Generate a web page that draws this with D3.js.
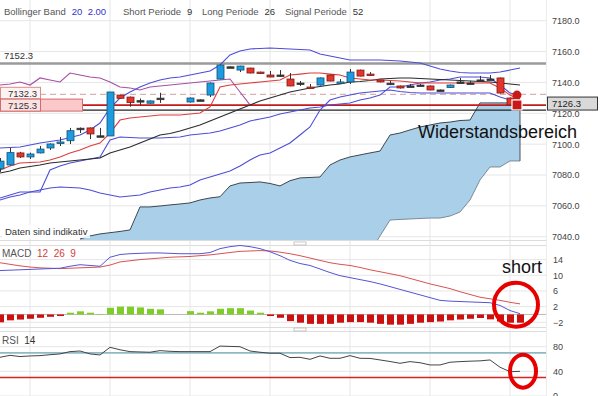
<!DOCTYPE html>
<html>
<head>
<meta charset="utf-8">
<script src="https://cdn.jsdelivr.net/npm/d3@7"></script>
<style>
  body { margin: 0; background: #fff; }
  svg { display: block; font-family: "Liberation Sans", Arial, sans-serif; }
</style>
</head>
<body>
<div class="chart"></div>
<script>
// ---- data (prices / indicator values per bar) ----
var opens  = [7084, 7086.5, 7094.3, 7091.7, 7094.3, 7097.5, 7100.5, 7102.2, 7110.2, 7110.5, 7105.3, 7105.3, 7131.8, 7130.5, 7128.1, 7126.5, 7129.7, null, null, 7127.3, 7128.6, 7131.8, 7142.2, 7150.0, 7148.0, 7149.3, 7146.7, 7144.8, 7144.8, 7142.2, 7139.6, 7137.0, 7138.3, 7144.8, 7139.6, 7140.3, 7148.0, 7145.4, 7141.6, 7139.5, 7137.7, 7137.7, 7138.3, 7137.7, 7135.1, 7136.7, 7140.3, 7139.6, 7141.6, 7142.2, 7142.9, 7129.9];
var highs  = [7091, 7097.5, 7095, 7094.5, 7098.8, 7100.5, 7104.6, 7110.5, 7110.8, 7110.8, 7110.5, 7133.8, 7132, 7130.8, 7129.6, 7128.3, 7133.3, null, null, 7130.2, 7129, 7140, 7151.5, 7150.4, 7150.8, 7149.5, 7147, 7147.4, 7148, 7146.1, 7140.9, 7139, 7143.2, 7145, 7142.2, 7148.7, 7148.3, 7146.7, 7141.9, 7140.9, 7138, 7139, 7139, 7138, 7135.4, 7138.6, 7142.9, 7141, 7144.2, 7144.8, 7143.2, 7130.2];
var lows   = [7082, 7086, 7091, 7090.4, 7094, 7096.2, 7098.8, 7100.1, 7107.2, 7103.3, 7105, 7105.3, 7129.5, 7124.3, 7125.4, 7126.2, 7126.7, null, null, 7127, 7128.3, 7130.5, 7142, 7149.7, 7146.7, 7145.8, 7145.6, 7143.3, 7143.5, 7137.5, 7137.7, 7136.2, 7138, 7140.7, 7139.4, 7139, 7143.9, 7144.3, 7140, 7138.3, 7136, 7137.3, 7137.5, 7134.9, 7134.7, 7136.4, 7139.6, 7139, 7140.9, 7141.6, 7132.8, 7125];
var closes = [7089, 7094.5, 7091.7, 7093.6, 7096.8, 7100.1, 7101.4, 7108.7, 7110.3, 7106.6, 7105.4, 7133.8, 7129.7, 7126.9, 7128.2, 7128.0, 7129.8, null, null, 7129.9, 7128.7, 7139.6, 7151.3, 7150.1, 7150.6, 7146.1, 7145.8, 7143.5, 7144.7, 7137.7, 7139.5, 7136.4, 7142.9, 7140.9, 7140.3, 7146.7, 7144.1, 7144.5, 7140.3, 7139.4, 7136.4, 7137.6, 7138.2, 7135.1, 7135.0, 7138.3, 7140.2, 7139.5, 7141.5, 7142.1, 7133.1, 7125.4];

var bbUpper = [7097.5, 7097.8, 7098.1, 7099.4, 7100.7, 7101.7, 7102.7, 7104.3, 7105.9, 7109.2, 7113.7, 7123.4, 7129.9, 7133.8, 7137.0, 7139.6, 7141.6, 7142.9, 7143.5, 7144.8, 7146.1, 7147.4, 7151.3, 7157.8, 7160.4, 7161.7, 7162.0, 7162.3, 7162.0, 7161.7, 7161.3, 7161.0, 7158.4, 7157.1, 7155.8, 7154.5, 7154.5, 7154.5, 7154.5, 7154.2, 7153.9, 7153.2, 7152.6, 7150.6, 7148.7, 7147.4, 7146.4, 7146.1, 7146.1, 7146.1, 7146.7, 7148.0, 7149.3];
var bbMiddle = [7065.1, 7067.0, 7069.0, 7069.0, 7069.0, 7083.2, 7085.8, 7087.8, 7089.1, 7090.4, 7091.7, 7102.7, 7104.6, 7104.3, 7104.0, 7104.0, 7104.0, 7104.3, 7104.6, 7105.9, 7106.6, 7107.2, 7108.5, 7110.5, 7112.4, 7115.0, 7116.3, 7117.6, 7119.5, 7120.8, 7122.1, 7123.4, 7124.1, 7125.4, 7126.0, 7126.7, 7128.6, 7129.9, 7131.8, 7137.0, 7137.0, 7138.3, 7139.6, 7140.3, 7141.6, 7142.2, 7143.5, 7143.5, 7143.5, 7142.9, 7138.3, 7133.1, 7131.8];
var bbLower = [7063.8, 7065.7, 7067.0, 7069.0, 7070.3, 7071.6, 7072.2, 7071.9, 7071.6, 7070.3, 7068.3, 7067.0, 7065.7, 7066.4, 7067.0, 7069.0, 7070.3, 7071.6, 7072.2, 7073.5, 7076.8, 7078.7, 7080.6, 7082.6, 7085.8, 7089.7, 7093.0, 7094.3, 7097.5, 7100.7, 7105.9, 7111.1, 7122.1, 7128.6, 7130.5, 7131.8, 7133.1, 7133.8, 7134.4, 7135.1, 7134.1, 7133.5, 7133.1, 7133.1, 7133.1, 7133.1, 7133.1, 7133.1, 7133.1, 7133.1, 7130.5, 7128.6, 7126.7];

var shortLine = [7083.2, 7085.8, 7087.8, 7088.1, 7088.4, 7089.7, 7091.7, 7094.3, 7096.2, 7098.8, 7100.7, 7107.2, 7115.6, 7116.9, 7117.6, 7118.2, 7118.9, 7118.9, 7118.9, 7119.5, 7120.2, 7124.1, 7137.0, 7138.3, 7139.0, 7139.6, 7140.3, 7140.9, 7141.6, 7144.8, 7145.4, 7146.1, 7146.1, 7145.4, 7144.8, 7142.9, 7142.2, 7141.6, 7141.6, 7141.2, 7140.9, 7140.3, 7139.6, 7139.6, 7139.6, 7139.6, 7139.6, 7139.6, 7139.6, 7139.6, 7136.4, 7131.8, 7128.6];
var longLine = [7081.3, 7082.6, 7084.5, 7085.5, 7086.5, 7087.8, 7088.4, 7089.1, 7089.7, 7090.4, 7091.0, 7094.3, 7096.2, 7098.1, 7100.7, 7103.3, 7105.9, 7106.9, 7108.5, 7110.5, 7112.4, 7115.0, 7117.6, 7120.2, 7122.8, 7125.4, 7128.0, 7129.9, 7131.8, 7133.8, 7135.1, 7136.4, 7137.4, 7138.3, 7139.0, 7140.3, 7140.6, 7141.2, 7142.2, 7142.5, 7142.9, 7142.9, 7142.5, 7142.2, 7141.9, 7141.6, 7141.2, 7140.9, 7140.6, 7140.3, 7139.6, 7139.0, 7138.3];
var lagLine = [7138.3, 7139.0, 7140.3, 7138.3, 7142.9, 7141.6, 7140.3, 7146.1, 7144.8, 7143.5, 7142.9, 7140.3, 7137.0, 7136.4, 7135.1, 7137.0, 7137.7, 7138.3, 7139.0, 7139.6, 7140.3, 7140.9, 7141.6, 7142.2, 7133.8, 7125.4];

var cloudTop = [null, null, null, null, null, null, null, null, 7038.5, 7040.5, 7041.8, 7042.6, 7043.4, 7044.4, 7059.3, 7059.3, 7059.9, 7060.6, 7061.2, 7061.9, 7063.8, 7065.1, 7065.9, 7072.9, 7074.8, 7075.1, 7075.5, 7074.5, 7072.9, 7076.3, 7078.1, 7078.4, 7078.7, 7086.5, 7089.7, 7091.7, 7093.0, 7094.3, 7095.5, 7105.9, 7107.2, 7109.2, 7111.1, 7112.4, 7113.7, 7114.3, 7115.3, 7115.6, 7126.7, 7126.7, 7126.7, 7126.7, 7126.7];
var cloudBottom = [null, null, null, null, null, null, null, null, 7030, 7030, 7030, 7030, 7030, 7030, 7030, 7030, 7030, 7030, 7030, 7030, 7030, 7030, 7030, 7030, 7030, 7030, 7030, 7030, 7030, 7030, 7030, 7030, 7030, 7030, 7030, 7030, 7030, 7030, 7040.5, 7050.8, 7051.2, 7051.5, 7051.8, 7052.1, 7052.1, 7053.4, 7056.0, 7063.8, 7076.8, 7085.2, 7085.2, 7089.1, 7089.1];

var macdLine = [11.2, 11.3, 11.4, 11.5, 11.6, 11.7, 11.8, 12.3, 12.7, 12.5, 12.3, 14.6, 15.3, 15.5, 15.6, 15.7, 15.7, 15.6, 15.5, 15.5, 15.5, 15.8, 16.8, 17.3, 17.6, 17.3, 16.8, 16.0, 15.0, 13.8, 13.0, 12.5, 11.6, 10.7, 9.9, 9.4, 8.9, 8.4, 7.8, 7.1, 6.4, 5.7, 5.0, 4.3, 3.6, 3.4, 3.3, 3.2, 3.1, 3.0, 2.3, 1.0, 0.2];
var signalLine = [13.2, 12.8, 12.4, 12.1, 11.9, 11.8, 11.7, 11.8, 11.9, 12.0, 12.1, 12.6, 13.4, 13.7, 14.0, 14.2, 14.4, 14.6, 14.7, 14.8, 15.0, 15.2, 15.5, 15.8, 16.1, 16.2, 16.3, 16.2, 15.9, 15.5, 15.0, 14.4, 13.8, 13.2, 12.8, 12.5, 12.0, 11.4, 10.9, 10.4, 9.9, 9.2, 8.5, 7.8, 7.2, 6.6, 5.8, 5.1, 4.4, 4.0, 3.6, 3.1, 2.7];
var macdHist = [-2.0, -1.5, -1.3, -1.1, -0.85, -0.6, -0.4, 0.45, 0.8, 0.45, 0.1, 1.7, 2.0, 2.0, 1.8, 1.45, 1.3, null, null, 0.85, 0.45, 0.8, 1.45, 1.6, 1.6, 1.0, 0.45, -0.4, -0.85, -1.7, -2.1, -2.4, -2.4, -2.4, -2.1, -1.95, -1.95, -2.1, -2.4, -2.6, -2.6, -2.4, -2.1, -1.95, -1.8, -1.5, -1.3, -1.1, -0.9, -1.25, -1.8, -2.1, -2.1];
var rsiLine = [62.8, 66, 64, 65, 65.5, 67, 68.3, 72, 73, 68.3, 66.6, 79, 75, 72, 71.5, 71, 73.6, 72.5, 72, 72, 72, 72, 81, 80.5, 80, 73, 71, 69.4, 69.4, 62.3, 62.8, 59.5, 65, 61.2, 61.2, 65.5, 61.2, 61, 58.5, 56, 53.1, 55.8, 54, 50.4, 50.4, 54.8, 55.8, 56.5, 57, 58.5, 46.7, 39.5, 40];

var mainTicks = [7180, 7160, 7140, 7120, 7100, 7080, 7060, 7040];
var macdTicks = [14, 10, 6, 2, -2];
var rsiTicks = [80, 40, 0];
var gridBars = [3, 11, 19, 27, 35, 43, 51];

var legendNames = ["Bollinger Band", "Short Periode", "Long Periode", "Signal Periode"];
var legendValues = ["20  2.00", "9", "26", "52"];

var levelHigh = 7152.3, levelDash = 7132.3, levelRed = 7125.3, levelBlack = 7122.1;
var lastPrice = 7126.3, markerHigh = 7131.8, markerLow = 7125.4;

// ---- layout ----
var svgWidth = 600;
var svgHeight = 396;
var plotRight = 546;

var svg = d3.select(".chart")
  .append("svg")
  .attr("width", svgWidth)
  .attr("height", svgHeight);

var x = d3.scaleLinear().domain([0, 52]).range([0, 520]);
var yMain = d3.scaleLinear().domain([7040, 7180]).range([236.7, 20.7]);
var yMacd = d3.scaleLinear().domain([-2, 14]).range([322.3, 259.6]);
var yRsi = d3.scaleLinear().domain([0, 80]).range([396, 346.7]);

var idx = d3.range(53);

svg.append("defs").append("clipPath").attr("id", "mainClip")
  .append("rect").attr("x", 0).attr("y", 0).attr("width", plotRight).attr("height", 240);

// vertical grid lines through all panels
svg.selectAll(".vgrid")
  .data(gridBars)
  .enter()
  .append("line")
  .attr("x1", d => x(d)).attr("x2", d => x(d))
  .attr("y1", 0).attr("y2", svgHeight)
  .attr("stroke", "#e6e6e6");

// horizontal grid lines
svg.selectAll(".hgrid")
  .data(mainTicks)
  .enter()
  .append("line")
  .attr("x1", 0).attr("x2", plotRight)
  .attr("y1", d => yMain(d)).attr("y2", d => yMain(d))
  .attr("stroke", "#e6e6e6");

// panel borders / separators
[240.5, 245.5, 327.5, 331.5].forEach(function(yy) {
  svg.append("line").attr("x1", 0).attr("x2", plotRight).attr("y1", yy).attr("y2", yy)
    .attr("stroke", "#dcdcdc");
});
svg.append("line").attr("x1", plotRight + 0.5).attr("x2", plotRight + 0.5)
  .attr("y1", 0).attr("y2", svgHeight).attr("stroke", "#ececec");
[243.5, 329.5].forEach(function(yy) {
  svg.append("rect").attr("x", 294).attr("y", yy - 1.5).attr("width", 12).attr("height", 3)
    .attr("fill", "#fff").attr("stroke", "#bbb").attr("stroke-width", 0.8);
});

// ---- main panel ----
var mainGroup = svg.append("g").attr("clip-path", "url(#mainClip)");

// Step 1: cloud
var cloudArea = d3.area()
  .defined(d => cloudTop[d] != null)
  .x(d => x(d))
  .y0(d => yMain(cloudBottom[d]))
  .y1(d => yMain(cloudTop[d]));

mainGroup.append("path")
  .attr("d", cloudArea(idx))
  .attr("fill", "#a9cfe9");

mainGroup.append("path")
  .attr("d", d3.line().defined(d => cloudBottom[d] != null).x(d => x(d)).y(d => yMain(cloudBottom[d]))(idx))
  .attr("fill", "none").attr("stroke", "#7c8a96").attr("stroke-width", 1);

mainGroup.append("path")
  .attr("d", d3.line().defined(d => cloudTop[d] != null).x(d => x(d)).y(d => yMain(cloudTop[d]))(idx))
  .attr("fill", "none").attr("stroke", "#3e4650").attr("stroke-width", 1);

mainGroup.append("line")
  .attr("x1", x(52)).attr("x2", x(52))
  .attr("y1", yMain(cloudTop[52])).attr("y2", yMain(cloudBottom[52]))
  .attr("stroke", "#4a525c");

// Step 2: horizontal levels
mainGroup.append("line")
  .attr("x1", 0).attr("x2", plotRight)
  .attr("y1", yMain(levelHigh)).attr("y2", yMain(levelHigh))
  .attr("stroke", "#9a9a9a").attr("stroke-width", 2.5);

mainGroup.append("line")
  .attr("x1", 40).attr("x2", plotRight)
  .attr("y1", yMain(levelDash)).attr("y2", yMain(levelDash))
  .attr("stroke", "#d9b3b3").attr("stroke-width", 1.2).attr("stroke-dasharray", "6,4");

mainGroup.append("line")
  .attr("x1", 0).attr("x2", plotRight)
  .attr("y1", yMain(levelBlack)).attr("y2", yMain(levelBlack))
  .attr("stroke", "#222").attr("stroke-width", 1.2);

mainGroup.append("line")
  .attr("x1", 0).attr("x2", plotRight)
  .attr("y1", yMain(levelRed)).attr("y2", yMain(levelRed))
  .attr("stroke", "#c41a1a").attr("stroke-width", 1.8);

// Step 3: indicator lines
function drawLine(values, color, width) {
  mainGroup.append("path")
    .attr("d", d3.line()
      .defined(d => values[d] != null)
      .x(d => x(d))
      .y(d => yMain(values[d]))(d3.range(values.length)))
    .attr("fill", "none")
    .attr("stroke", color)
    .attr("stroke-width", width);
}
drawLine(lagLine, "#a64fa6", 1.1);
drawLine(bbLower, "#4d4dd9", 1.1);
drawLine(bbMiddle, "#4d4dd9", 1.1);
drawLine(bbUpper, "#4d4dd9", 1.1);
drawLine(longLine, "#2b2b2b", 1.1);
drawLine(shortLine, "#dd3b3b", 1.1);

// Step 4: candles
var candles = idx.slice(0, 52).filter(d => opens[d] != null);

mainGroup.selectAll(".wick")
  .data(candles)
  .enter()
  .append("line")
  .attr("x1", d => x(d) + 0.5).attr("x2", d => x(d) + 0.5)
  .attr("y1", d => yMain(highs[d])).attr("y2", d => yMain(lows[d]))
  .attr("stroke", "#333").attr("stroke-width", 1);

mainGroup.selectAll(".body")
  .data(candles)
  .enter()
  .append("rect")
  .attr("x", d => x(d) - 3)
  .attr("width", 7)
  .attr("y", d => yMain(Math.max(opens[d], closes[d])))
  .attr("height", d => Math.max(1.5, Math.abs(yMain(opens[d]) - yMain(closes[d]))))
  .attr("fill", function(d) {
    if (Math.abs(closes[d] - opens[d]) < 0.3) return "#333";
    return closes[d] > opens[d] ? "#1d9be0" : "#e2352c";
  })
  .attr("stroke", function(d) {
    if (Math.abs(closes[d] - opens[d]) < 0.3) return "#333";
    return closes[d] > opens[d] ? "#17506f" : "#7e1b16";
  })
  .attr("stroke-width", 0.8);

// Step 5: last price markers
mainGroup.append("circle")
  .attr("cx", x(52) - 3).attr("cy", yMain(markerHigh)).attr("r", 4.5)
  .attr("fill", "#c81818");
mainGroup.append("rect")
  .attr("x", x(52) - 8).attr("y", yMain(markerLow) - 5).attr("width", 10).attr("height", 10)
  .attr("fill", "#c81818").attr("stroke", "#fff").attr("stroke-width", 1.2);

// Step 6: level labels on the left
svg.append("text")
  .attr("x", 4).attr("y", yMain(levelHigh) - 4)
  .attr("font-size", 9.5).attr("fill", "#333")
  .text(levelHigh.toFixed(1));

svg.append("rect")
  .attr("x", 0.5).attr("y", yMain(levelDash) - 7).attr("width", 40).attr("height", 12)
  .attr("fill", "#fdf3f3").attr("stroke", "#d98c8c");
svg.append("text")
  .attr("x", 8).attr("y", yMain(levelDash) + 3)
  .attr("font-size", 9.5).attr("fill", "#333")
  .text(levelDash.toFixed(1));

svg.append("rect")
  .attr("x", 0.5).attr("y", yMain(levelRed) - 6).attr("width", 82).attr("height", 12)
  .attr("fill", "#fbc9c9").attr("stroke", "#d46a6a");
svg.append("rect")
  .attr("x", 0.5).attr("y", yMain(levelRed) - 6).attr("width", 40).attr("height", 12)
  .attr("fill", "#fbe1e1").attr("stroke", "#d46a6a");
svg.append("text")
  .attr("x", 8).attr("y", yMain(levelRed) + 3.5)
  .attr("font-size", 9.5).attr("fill", "#333")
  .text(levelRed.toFixed(1));

// Step 7: right axis of main panel
var mainAxis = svg.append("g")
  .attr("transform", `translate(${plotRight + 2}, 0)`)
  .call(d3.axisRight(yMain).tickValues(mainTicks).tickSize(0).tickPadding(4).tickFormat(d3.format(".1f")));
mainAxis.select(".domain").remove();
mainAxis.selectAll("text").attr("font-size", 9).attr("fill", "#444").attr("font-family", "Liberation Sans, Arial, sans-serif");

svg.append("rect")
  .attr("x", 547.5).attr("y", yMain(lastPrice) - 6.5).attr("width", 50).attr("height", 13)
  .attr("fill", "#d9d9d9").attr("stroke", "#333");
svg.append("text")
  .attr("x", 552).attr("y", yMain(lastPrice) + 3.5)
  .attr("font-size", 9.5).attr("fill", "#222")
  .text(lastPrice.toFixed(1));

// Step 8: annotation text + legend
svg.append("text")
  .attr("x", 418).attr("y", 137.5)
  .attr("font-size", 18).attr("fill", "#111")
  .text("Widerstandsbereich");

svg.append("rect")
  .attr("x", 2).attr("y", 225).attr("width", 88).attr("height", 13)
  .attr("fill", "#fff").attr("opacity", 0.85);
svg.append("text")
  .attr("x", 5).attr("y", 235)
  .attr("font-size", 9.5).attr("fill", "#333")
  .text("Daten sind indikativ");

// legend: name in grey, parameters after a small gap
var legendX = [4, 123, 202, 285];
legendNames.forEach(function(name, i) {
  var t = svg.append("text")
    .attr("x", legendX[i]).attr("y", 15)
    .attr("font-size", 9.5).attr("fill", "#555")
    .text(name);
  var w = t.node().getComputedTextLength();
  svg.append("text")
    .attr("x", legendX[i] + w + 6).attr("y", 15)
    .attr("font-size", 9.5)
    .attr("fill", i == 0 ? "#3333cc" : "#333")
    .style("white-space", "pre")
    .text(legendValues[i]);
});

// ---- MACD panel ----
svg.selectAll(".macdGrid")
  .data(macdTicks)
  .enter()
  .append("line")
  .attr("x1", 0).attr("x2", plotRight)
  .attr("y1", d => yMacd(d)).attr("y2", d => yMacd(d))
  .attr("stroke", "#e6e6e6");

svg.append("line")
  .attr("x1", 0).attr("x2", plotRight)
  .attr("y1", yMacd(0)).attr("y2", yMacd(0))
  .attr("stroke", "#b8b8b8");

svg.selectAll(".hist")
  .data(idx.filter(d => macdHist[d] != null))
  .enter()
  .append("rect")
  .attr("x", d => x(d) - 3)
  .attr("width", 7)
  .attr("y", d => macdHist[d] > 0 ? yMacd(macdHist[d]) : yMacd(0))
  .attr("height", d => Math.abs(yMacd(macdHist[d]) - yMacd(0)))
  .attr("fill", d => macdHist[d] > 0 ? "#7fcc2a" : "#cc1010");

svg.append("path")
  .attr("d", d3.line().x(d => x(d)).y(d => yMacd(signalLine[d]))(idx))
  .attr("fill", "none").attr("stroke", "#d9534f").attr("stroke-width", 1);
svg.append("path")
  .attr("d", d3.line().x(d => x(d)).y(d => yMacd(macdLine[d]))(idx))
  .attr("fill", "none").attr("stroke", "#5555d5").attr("stroke-width", 1);

var macdAxis = svg.append("g")
  .attr("transform", `translate(${plotRight + 2}, 0)`)
  .call(d3.axisRight(yMacd).tickValues(macdTicks).tickSize(0).tickPadding(5));
macdAxis.select(".domain").remove();
macdAxis.selectAll("text").attr("font-size", 9).attr("fill", "#444").attr("font-family", "Liberation Sans, Arial, sans-serif");

var macdLabel = svg.append("text").attr("x", 2).attr("y", 257).attr("font-size", 10)
  .style("white-space", "pre");
macdLabel.append("tspan").attr("fill", "#555").text("MACD  ");
macdLabel.append("tspan").attr("fill", "#d23b3b").text("12  26  9");

svg.append("text")
  .attr("x", 502).attr("y", 273)
  .attr("font-size", 18).attr("fill", "#111")
  .text("short");

svg.append("circle")
  .attr("cx", x(51.6)).attr("cy", yMacd(2.5)).attr("r", 22)
  .attr("fill", "none").attr("stroke", "#e60000").attr("stroke-width", 4);

// ---- RSI panel ----
svg.selectAll(".rsiGrid")
  .data(rsiTicks)
  .enter()
  .append("line")
  .attr("x1", 0).attr("x2", plotRight)
  .attr("y1", d => yRsi(d)).attr("y2", d => yRsi(d))
  .attr("stroke", "#e6e6e6");

svg.append("line")
  .attr("x1", 0).attr("x2", plotRight)
  .attr("y1", yRsi(70)).attr("y2", yRsi(70))
  .attr("stroke", "#8fb9c6").attr("stroke-width", 1.6);
svg.append("line")
  .attr("x1", 0).attr("x2", plotRight)
  .attr("y1", yRsi(30)).attr("y2", yRsi(30))
  .attr("stroke", "#dd2222").attr("stroke-width", 1.4);

svg.append("path")
  .attr("d", d3.line().x(d => x(d)).y(d => yRsi(rsiLine[d]))(idx))
  .attr("fill", "none").attr("stroke", "#444").attr("stroke-width", 1);

var rsiAxis = svg.append("g")
  .attr("transform", `translate(${plotRight + 2}, 0)`)
  .call(d3.axisRight(yRsi).tickValues(rsiTicks).tickSize(0).tickPadding(5));
rsiAxis.select(".domain").remove();
rsiAxis.selectAll("text").attr("font-size", 9).attr("fill", "#444").attr("font-family", "Liberation Sans, Arial, sans-serif");

var rsiLabel = svg.append("text").attr("x", 2).attr("y", 344).attr("font-size", 10)
  .style("white-space", "pre");
rsiLabel.append("tspan").attr("fill", "#555").text("RSI  ");
rsiLabel.append("tspan").attr("fill", "#333").text("14");

svg.append("ellipse")
  .attr("cx", x(52.3)).attr("cy", yRsi(40.3)).attr("rx", 13).attr("ry", 16.5)
  .attr("fill", "none").attr("stroke", "#e60000").attr("stroke-width", 4);
</script>
</body>
</html>
